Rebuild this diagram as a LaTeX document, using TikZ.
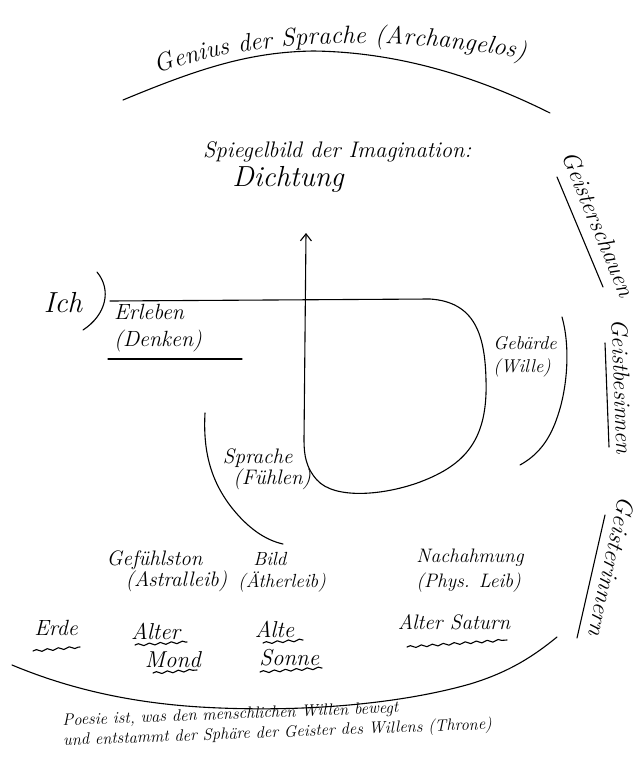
\documentclass[tikz,border=0pt]{standalone}
\usepackage{fontspec}
\usetikzlibrary{arrows.meta,decorations.text,decorations.pathmorphing}
\newcommand\hfs[2]{\fontsize{#1}{#2}\selectfont\itshape}
\begin{document}
\begin{tikzpicture}[x=1pt,y=-1pt,
  hand/.style={inner sep=0pt, text=black},
  stroke/.style={line width=1.1pt, line cap=round, line join=round},
  wavy/.style={stroke, decorate, decoration={snake, amplitude=1.1pt, segment length=11pt}}]
\useasboundingbox[fill=white] (0,0) rectangle (638,779);

% top arc and title along it
\draw[stroke] (123,100) .. controls (200,68) and (250,52) .. (313,51)
   .. controls (400,52) and (480,78) .. (550,113);
\path[decorate, decoration={text along path,
   text={|\hfs{25}{25}|Genius der Sprache (Archangelos)}, text align={fit to path}}]
   (158,74) .. controls (250,36) and (420,36) .. (524,60);

% Spiegelbild
\node[hand, font={\hfs{22.5}{27}}, align=left, anchor=north west] (spiegel) at (203,141)
  {Spiegelbild der Imagination:\\[2pt]\hspace*{1.3em}{\fontsize{29}{31}\selectfont Dichtung}};

% Ich
\node[hand, font={\hfs{29}{30}}] (ich) at (63,303) {Ich};
\coordinate (ptop) at (97,272);
\coordinate (pbot) at (83,330);
\draw[stroke] (ptop) .. controls (112,290) and (106,315) .. (pbot);

% D shape with arrow
\coordinate (lstart) at (110,301);
\coordinate (atip) at (306,233);
\draw[stroke, -{Straight Barb[length=7pt,width=11pt,line width=1.1pt]}]
  (lstart) -- (430,299) .. controls (475,302) and (485,335) .. (486,380)
  .. controls (488,440) and (465,465) .. (420,482)
  .. controls (385,495) and (335,500) .. (317,480)
  .. controls (306,468) and (304,455) .. (304,440) -- (atip);

% Erleben
\node[hand, font={\hfs{22}{27}}, align=left, anchor=north west] (erleben) at (114,304)
  {Erleben\\(Denken)};
\coordinate (eu1) at (108,359);
\coordinate (eu2) at (242,359);
\draw[stroke] (eu1) -- (eu2);

% Gebaerde
\node[hand, font={\hfs{18.5}{23}}, align=left] (gebaerde) at (525,357) {Gebärde\\(Wille)};
\draw[stroke] (562,317) .. controls (570,345) and (568,385) .. (558,415)
  .. controls (550,440) and (538,455) .. (520,465);

% Sprache
\node[hand, font={\hfs{21}{21}}, align=left] (sprache) at (267,469) {Sprache\\\hspace*{0.5em}(Fühlen)};
\draw[stroke] (205,413) .. controls (203,450) and (210,480) .. (232,508)
  .. controls (248,528) and (265,540) .. (283,544);

% side words (baseline next to their underlines)
\node[hand, font={\hfs{24}{24}}, rotate=-67.3, anchor=base] (schauen) at (591,227) {Geisterschauen};
\draw[stroke] (557,177) -- (603,287);
\node[hand, font={\hfs{23}{23}}, rotate=-87.8, anchor=base] (besinnen) at (614,387) {Geistbesinnen};
\draw[stroke] (605,343) -- (609,447);
\node[hand, font={\hfs{24}{24}}, rotate=-102.8, anchor=base] (erinnern) at (604,565) {Geisterinnern};
\draw[stroke] (605,515) -- (577,638);

% members
\node[hand, font={\hfs{21}{19}}, align=left] (gefuehl) at (167,571) {Gefühlston\\\hspace*{0.9em}(Astralleib)};
\node[hand, font={\hfs{19}{22}}, align=left] (bild) at (282,572) {\hspace*{0.8em}Bild\\(Ätherleib)};
\node[hand, font={\hfs{19.5}{25}}, align=left] (nach) at (470,571) {Nachahmung\\(Phys. Leib)};

% planets
\node[hand, font={\hfs{22}{22}}] (erde) at (56,628) {Erde};
\draw[wavy] (33,651) -- (80,647);
\node[hand, font={\hfs{23}{28}}, align=left] (amond) at (166,645) {Alter\\\hspace*{0.6em}Mond};
\draw[wavy] (135,645) -- (187,642);
\draw[wavy] (153,673) -- (197,670);
\node[hand, font={\hfs{23}{28}}, align=left] (asonne) at (287,644) {Alte\\\hspace*{0.2em}Sonne};
\draw[wavy] (263,643) -- (303,640);
\draw[wavy] (260,672) -- (322,668);
\node[hand, font={\hfs{21}{21}}] (asat) at (454,622) {Alter Saturn};
\draw[wavy] (407,647) -- (507,640);

% bottom arc
\draw[stroke] (12,665) .. controls (60,685) and (120,702) .. (200,707)
  .. controls (300,713) and (400,704) .. (470,684)
  .. controls (510,672) and (535,655) .. (557,637);

% bottom text
\node[hand, font={\hfs{16.5}{20}}, align=left, rotate=2.2, anchor=north west] (poesie) at (62,714)
  {Poesie ist, was den menschlichen Willen bewegt\\und entstammt der Sphäre der Geister des Willens (Throne)};
\end{tikzpicture}
\end{document}
